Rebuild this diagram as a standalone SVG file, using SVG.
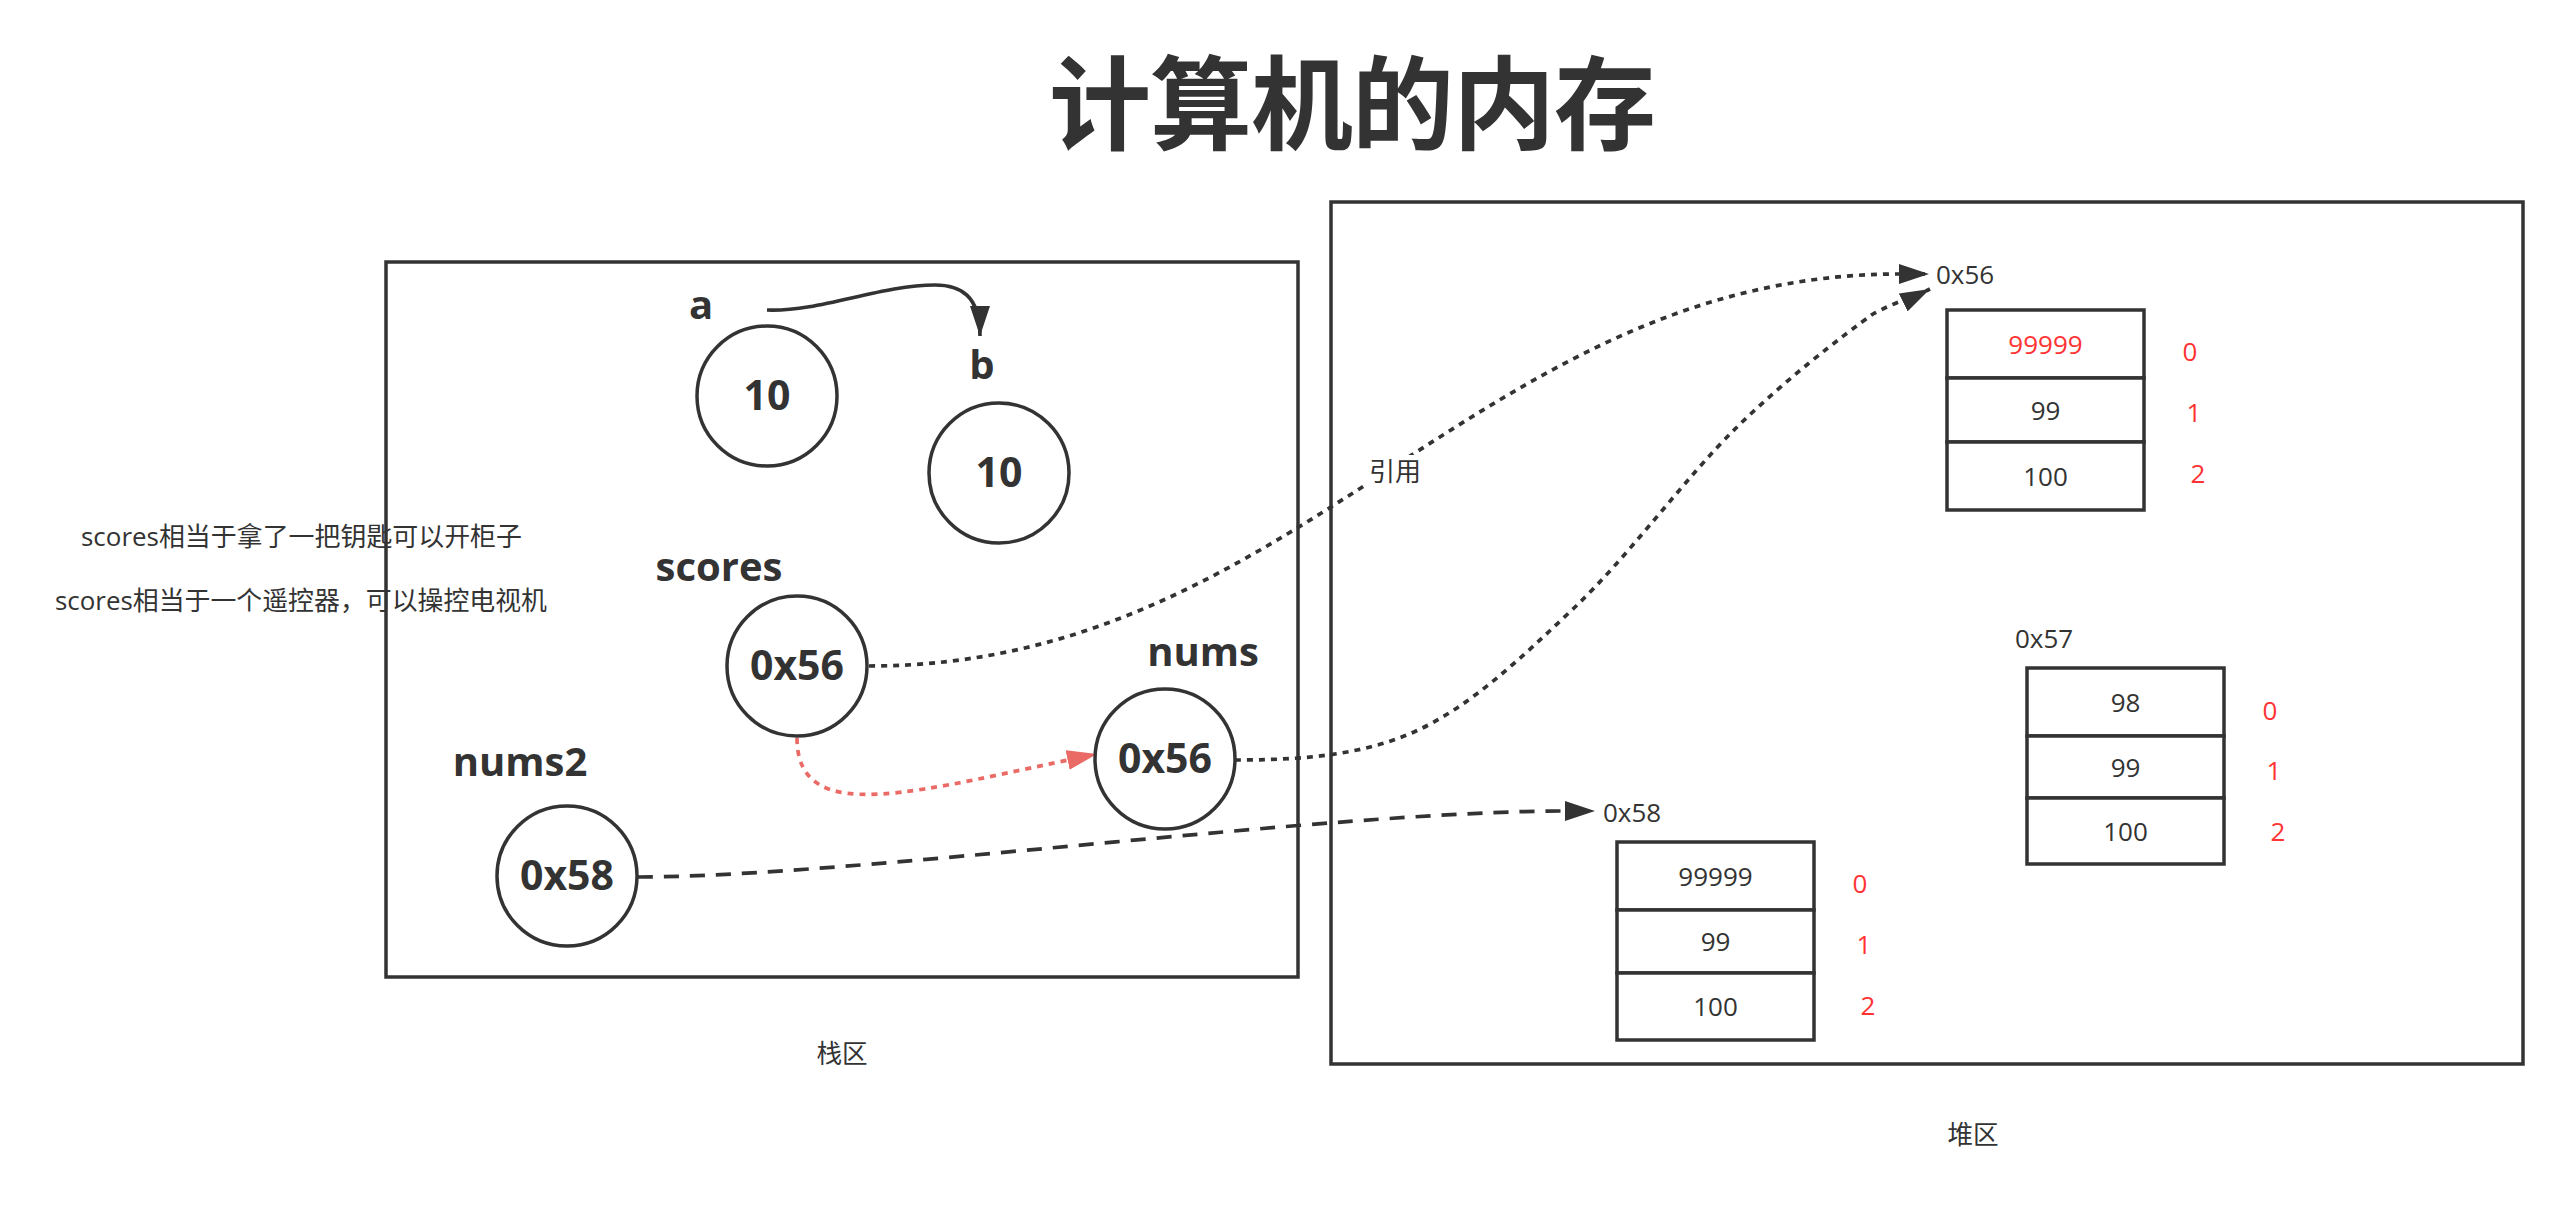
<svg xmlns="http://www.w3.org/2000/svg" width="2574" height="1222" viewBox="0 0 2574 1222">
  <style>
    .title { font-family: "Noto Sans CJK SC", "Open Sans", sans-serif; font-weight: bold; font-size: 102px; fill: #333333; }
    .area { fill: none; stroke: #333333; stroke-width: 3.5; }
    .node { fill: #ffffff; stroke: #333333; stroke-width: 3.5; }
    .cell { fill: #ffffff; stroke: #333333; stroke-width: 3.5; }
    .bold { font-family: "Open Sans", "Noto Sans CJK SC", sans-serif; font-weight: bold; font-size: 40px; fill: #333333; text-anchor: middle; }
    .val { font-family: "Open Sans", "Noto Sans CJK SC", sans-serif; font-weight: bold; font-size: 41px; fill: #333333; text-anchor: middle; }
    .txt { font-family: "Open Sans", "Noto Sans CJK SC", sans-serif; font-size: 26px; fill: #333333; }
    .mid { text-anchor: middle; }
    .red { fill: #FF3333; }
    .cjk { font-family: "Open Sans", "Noto Sans CJK SC", sans-serif; font-size: 25.6px; fill: #333333; }
    .edge { fill: none; stroke: #333333; stroke-width: 3.7; }
    .dot { stroke-dasharray: 6 6; }
    .dash { stroke-dasharray: 15 11; }
    .rededge { stroke: #EA6B66; }
  </style>
  <defs>
    <marker id="arr" markerUnits="userSpaceOnUse" viewBox="0 0 30 20" markerWidth="30" markerHeight="20" refX="30" refY="10" orient="auto">
      <path d="M0,0 L30,10 L0,20 Z" fill="#333333" stroke="none"/>
    </marker>
    <marker id="arrRed" markerUnits="userSpaceOnUse" viewBox="0 0 30 20" markerWidth="30" markerHeight="20" refX="30" refY="10" orient="auto">
      <path d="M0,0 L30,10 L0,20 Z" fill="#EA6B66" stroke="none"/>
    </marker>
  </defs>

  <rect width="2574" height="1222" fill="#ffffff"/>

  <g id="title">
    <text class="title" x="1352" y="142" text-anchor="middle" letter-spacing="-1">计算机的内存</text>
  </g>

  <g id="notes">
    <text class="cjk" x="81" y="546" textLength="441" lengthAdjust="spacingAndGlyphs">scores相当于拿了一把钥匙可以开柜子</text>
    <text class="cjk" x="55" y="610" textLength="492" lengthAdjust="spacingAndGlyphs">scores相当于一个遥控器，可以操控电视机</text>
  </g>

  <g id="stack-area">
    <rect class="area" x="386" y="262" width="912" height="715"/>
    <text class="cjk" x="842" y="1063" text-anchor="middle">栈区</text>
  </g>

  <g id="heap-area">
    <rect class="area" x="1331" y="202" width="1192" height="862"/>
    <text class="cjk" x="1973" y="1144" text-anchor="middle">堆区</text>
  </g>

  <g id="connectors">
    <path class="edge" d="M767,310 C820,312 880,285 935,285 C960,285 980,295 980,336" marker-end="url(#arr)"/>
    <path class="edge dot" d="M869,666 C1300,666 1480,274 1900,274 L1929,274" marker-end="url(#arr)"/>
    <path class="edge dot" d="M1235,760 C1290,760 1357.5,757.3 1414,732 C1470.5,706.7 1520.5,658.5 1574,608 C1627.5,557.5 1685.2,478 1735,429 C1784.8,380 1840.5,337.3 1873,314 C1895,302 1916,296 1930,289" marker-end="url(#arr)"/>
    <path class="edge dash" d="M638,877 C850,877 1330,811 1565,811 L1595,811" marker-end="url(#arr)"/>
    <path class="edge dot rededge" d="M797,738 C797,830 920,790 1097,754" marker-end="url(#arrRed)"/>
    <g id="edge-label">
      <rect x="1367" y="455" width="56" height="33" fill="#ffffff"/>
      <text class="txt mid" x="1395" y="481">引用</text>
    </g>
  </g>

  <g id="node-a">
    <text class="bold" x="701" y="319">a</text>
    <circle class="node" cx="767" cy="396" r="70"/>
    <text class="val" x="767" y="410">10</text>
  </g>

  <g id="node-b">
    <text class="bold" x="982" y="379">b</text>
    <circle class="node" cx="999" cy="473" r="70"/>
    <text class="val" x="999" y="487">10</text>
  </g>

  <g id="node-scores">
    <text class="bold" x="719" y="581">scores</text>
    <circle class="node" cx="797" cy="666" r="70"/>
    <text class="val" x="797" y="680">0x56</text>
  </g>

  <g id="node-nums">
    <text class="bold" x="1203" y="666">nums</text>
    <circle class="node" cx="1165" cy="759" r="70"/>
    <text class="val" x="1165" y="773">0x56</text>
  </g>

  <g id="node-nums2">
    <text class="bold" x="520" y="776">nums2</text>
    <circle class="node" cx="567" cy="876" r="70"/>
    <text class="val" x="567" y="890">0x58</text>
  </g>

  <g id="array-0x56">
    <text class="txt" x="1936" y="284">0x56</text>
    <rect class="cell" x="1947" y="310" width="197" height="68"/>
    <rect class="cell" x="1947" y="378" width="197" height="64"/>
    <rect class="cell" x="1947" y="442" width="197" height="68"/>
    <text class="txt mid red" x="2045.5" y="354">99999</text>
    <text class="txt mid" x="2045.5" y="420">99</text>
    <text class="txt mid" x="2045.5" y="486">100</text>
    <text class="txt mid red" x="2190" y="361">0</text>
    <text class="txt mid red" x="2194" y="422">1</text>
    <text class="txt mid red" x="2198" y="483">2</text>
  </g>

  <g id="array-0x57">
    <text class="txt" x="2015" y="648">0x57</text>
    <rect class="cell" x="2027" y="668" width="197" height="68"/>
    <rect class="cell" x="2027" y="736" width="197" height="62"/>
    <rect class="cell" x="2027" y="798" width="197" height="66"/>
    <text class="txt mid" x="2125.5" y="712">98</text>
    <text class="txt mid" x="2125.5" y="777">99</text>
    <text class="txt mid" x="2125.5" y="841">100</text>
    <text class="txt mid red" x="2270" y="720">0</text>
    <text class="txt mid red" x="2274" y="780">1</text>
    <text class="txt mid red" x="2278" y="841">2</text>
  </g>

  <g id="array-0x58">
    <text class="txt" x="1603" y="822">0x58</text>
    <rect class="cell" x="1617" y="842" width="197" height="68"/>
    <rect class="cell" x="1617" y="910" width="197" height="63"/>
    <rect class="cell" x="1617" y="973" width="197" height="67"/>
    <text class="txt mid" x="1715.5" y="886">99999</text>
    <text class="txt mid" x="1715.5" y="951">99</text>
    <text class="txt mid" x="1715.5" y="1016">100</text>
    <text class="txt mid red" x="1860" y="893">0</text>
    <text class="txt mid red" x="1864" y="954">1</text>
    <text class="txt mid red" x="1868" y="1015">2</text>
  </g>
</svg>
